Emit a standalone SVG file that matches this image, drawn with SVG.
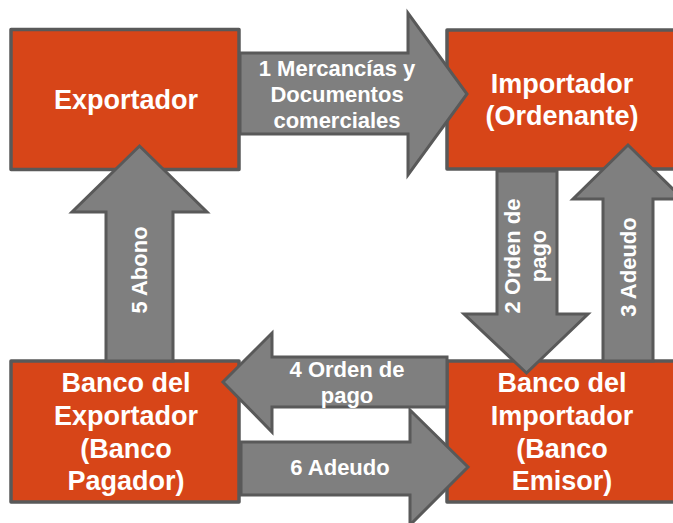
<svg xmlns="http://www.w3.org/2000/svg" width="673" height="523" viewBox="0 0 673 523">
<style>
.box{fill:#D74518;stroke:#595959;stroke-width:3.5;stroke-linejoin:round}
.arr{fill:#7F7F7F;stroke:#595959;stroke-width:3;stroke-linejoin:miter}
.bt{font-family:"Liberation Sans",Arial,sans-serif;font-weight:bold;font-size:27px;fill:#FFFFFF;text-anchor:middle}
.at{font-family:"Liberation Sans",Arial,sans-serif;font-weight:bold;font-size:22px;fill:#FFFFFF;text-anchor:middle}
</style>
<rect width="673" height="523" fill="#FFFFFF"/>
<g id="exportador">
<rect class="box" x="11" y="29.5" width="228" height="140"/>
<text class="bt" x="126" y="109">Exportador</text>
</g>
<g id="importador">
<rect class="box" x="447" y="30" width="230" height="139"/>
<text class="bt" x="562" y="93">Importador</text>
<text class="bt" x="562" y="125">(Ordenante)</text>
</g>
<g id="banco-exportador">
<rect class="box" x="11" y="361" width="228" height="141"/>
<text class="bt" x="126" y="392">Banco del</text>
<text class="bt" x="126" y="425">Exportador</text>
<text class="bt" x="126" y="458">(Banco</text>
<text class="bt" x="126" y="490">Pagador)</text>
</g>
<g id="banco-importador">
<rect class="box" x="447" y="361" width="230" height="141"/>
<text class="bt" x="562" y="392">Banco del</text>
<text class="bt" x="562" y="425">Importador</text>
<text class="bt" x="562" y="458">(Banco</text>
<text class="bt" x="562" y="490">Emisor)</text>
</g>
<g id="connectors">
<g id="arrow1">
<polygon class="arr" points="240,53 408,53 408,13 467,94 408,175 408,134 240,134"/>
<text class="at" x="337" y="76">1 Mercancías y</text>
<text class="at" x="337" y="102">Documentos</text>
<text class="at" x="337" y="128">comerciales</text>
</g>
<g id="arrow5">
<polygon class="arr" points="106,361 106,212 72,212 139.5,146 207,212 173,212 173,361"/>
<text class="at" transform="translate(147,270) rotate(-90)" x="0" y="0">5 Abono</text>
</g>
<g id="arrow2">
<polygon class="arr" points="497,171 557,171 557,314 588,314 526.5,373 464,314 497,314"/>
<text class="at" transform="translate(520,256) rotate(-90)"><tspan x="0" y="0">2 Orden de</tspan><tspan x="0" y="26">pago</tspan></text>
</g>
<g id="arrow3">
<polygon class="arr" points="603,361 603,199 573,199 628,145 683,199 653,199 653,361"/>
<text class="at" transform="translate(636,267) rotate(-90)" x="0" y="0">3 Adeudo</text>
</g>
<g id="arrow6">
<polygon class="arr" points="241,442 410,442 410,410 468,467 410,525 410,495 241,495"/>
<text class="at" x="340" y="475">6 Adeudo</text>
</g>
<g id="arrow4">
<polygon class="arr" points="447,357 272,357 272,333 223,382 272,432 272,407 447,407"/>
<text class="at" x="347" y="377">4 Orden de</text>
<text class="at" x="347" y="403">pago</text>
</g>
</g>
</svg>
